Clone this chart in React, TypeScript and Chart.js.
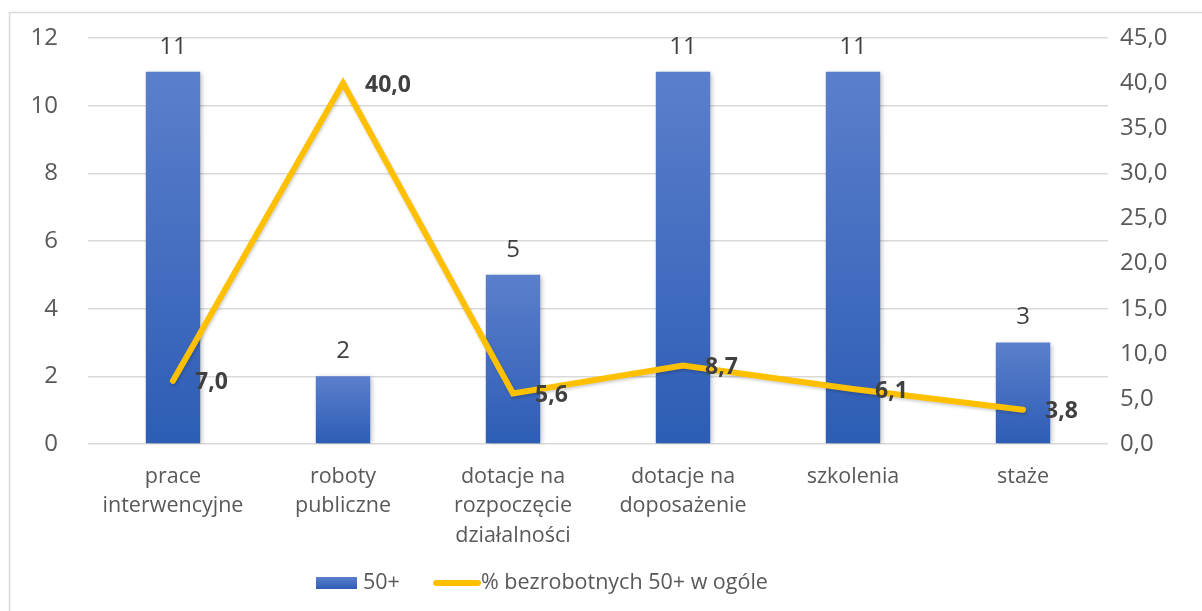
import { useEffect, useRef } from "react";
import { Chart, registerables } from "chart.js";

Chart.register(...registerables);

const categories: string[][] = [
  ["prace", "interwencyjne"],
  ["roboty", "publiczne"],
  ["dotacje na", "rozpoczęcie", "działalności"],
  ["dotacje na", "doposażenie"],
  ["szkolenia"],
  ["staże"],
];
const counts: number[] = [11, 2, 5, 11, 11, 3];
const percents: number[] = [7.0, 40.0, 5.6, 8.7, 6.1, 3.8];
const seriesNames: string[] = ["50+", "% bezrobotnych 50+ w ogóle"];
const leftAxis = { min: 0, max: 12, step: 2 };
const rightAxis = { min: 0, max: 45, step: 5 };

const FONT = "'Open Sans', 'Noto Sans', sans-serif";
const fmt = (v: number) => v.toFixed(1).replace(".", ",");

export default function App() {
  const ref = useRef<HTMLCanvasElement | null>(null);

  useEffect(() => {
    if (!ref.current) return;

    const borderPlugin = {
      id: "frame",
      beforeDraw(chart: any) {
        const c = chart.ctx;
        c.save();
        c.strokeStyle = "#d9d9d9";
        c.lineWidth = 1.5;
        c.beginPath();
        c.moveTo(9.5, chart.height);
        c.lineTo(9.5, 12.5);
        c.lineTo(chart.width, 12.5);
        c.stroke();
        c.restore();
      },
    };

    const shadowPlugin = {
      id: "shadows",
      beforeDatasetDraw(chart: any, args: any) {
        const c = chart.ctx;
        c.save();
        if (args.index === 0) {
          c.shadowColor = "rgba(0,0,0,0.28)";
          c.shadowBlur = 5;
          c.shadowOffsetX = 2;
          c.shadowOffsetY = 1;
        } else {
          c.shadowColor = "rgba(0,0,0,0.18)";
          c.shadowBlur = 3;
          c.shadowOffsetX = 1;
          c.shadowOffsetY = 2;
        }
      },
      afterDatasetDraw(chart: any) {
        chart.ctx.restore();
      },
    };

    const labelsPlugin = {
      id: "valueLabels",
      afterDatasetsDraw(chart: any) {
        const c = chart.ctx;
        c.save();
        c.fillStyle = "#404040";
        const barMeta = chart.getDatasetMeta(0);
        c.font = `24px ${FONT}`;
        c.textAlign = "center";
        c.textBaseline = "middle";
        barMeta.data.forEach((el: any, i: number) => {
          c.fillText(String(counts[i]), el.x, el.y - 25);
        });
        const lineMeta = chart.getDatasetMeta(1);
        c.font = `bold 23px ${FONT}`;
        c.textAlign = "left";
        lineMeta.data.forEach((el: any, i: number) => {
          c.fillText(fmt(percents[i]), el.x + 22, el.y + 2);
        });
        c.restore();
      },
    };

    const legendPlugin = {
      id: "customLegend",
      afterDraw(chart: any) {
        const c = chart.ctx;
        c.save();
        const cy = 583;
        let x = 316;
        const g = c.createLinearGradient(0, cy - 6, 0, cy + 6);
        g.addColorStop(0, "#5b7fcc");
        g.addColorStop(1, "#2d5db5");
        c.fillStyle = g;
        c.fillRect(x, cy - 6, 41, 12);
        x += 47;
        c.font = `21.5px ${FONT}`;
        c.fillStyle = "#595959";
        c.textAlign = "left";
        c.textBaseline = "middle";
        c.fillText(seriesNames[0], x, cy);
        x = 436;
        c.strokeStyle = "#ffc000";
        c.lineWidth = 6;
        c.lineCap = "round";
        c.beginPath();
        c.moveTo(x, cy);
        c.lineTo(x + 42, cy);
        c.stroke();
        c.fillText(seriesNames[1], 481, cy);
        c.restore();
      },
    };

    const chart = new Chart(ref.current, {
      data: {
        labels: categories,
        datasets: [
          {
            type: "bar",
            label: seriesNames[0],
            data: counts,
            yAxisID: "y",
            order: 1,
            barPercentage: 0.32,
            categoryPercentage: 1,
            backgroundColor: (ctx: any) => {
              const chart = ctx.chart;
              const y = chart.scales?.y;
              if (ctx.type !== "data" || !y) return "#4472c4";
              const top = y.getPixelForValue(ctx.raw);
              const base = y.getPixelForValue(0);
              if (!isFinite(top) || !isFinite(base) || top === base) return "#4472c4";
              const g = chart.ctx.createLinearGradient(0, top, 0, base);
              g.addColorStop(0, "#5b7fcc");
              g.addColorStop(1, "#2d5db5");
              return g;
            },
          },
          {
            type: "line",
            label: seriesNames[1],
            data: percents,
            yAxisID: "y1",
            order: 0,
            borderColor: "#ffc000",
            borderWidth: 6,
            borderCapStyle: "round",
            pointRadius: 0,
            tension: 0,
            fill: false,
          },
        ],
      } as any,
      options: {
        animation: false,
        responsive: true,
        maintainAspectRatio: false,
        layout: { padding: { top: 38, left: 0, right: 0, bottom: 0 } },
        plugins: {
          legend: { display: false },
          tooltip: { enabled: false },
        },
        scales: {
          x: {
            grid: { display: false },
            border: { display: false },
            ticks: {
              color: "#595959",
              font: { family: FONT, size: 21.5, lineHeight: 1.37 },
              padding: 10,
              maxRotation: 0,
              autoSkip: false,
            },
            afterFit: (s: any) => {
              s.height = 167;
              s.paddingLeft = 0;
              s.paddingRight = 0;
            },
          },
          y: {
            position: "left",
            min: leftAxis.min,
            max: leftAxis.max,
            ticks: {
              stepSize: leftAxis.step,
              color: "#595959",
              font: { family: FONT, size: 24 },
              padding: 30,
            },
            grid: { color: "#d9d9d9", lineWidth: 1.5, drawTicks: false },
            border: { display: false },
            afterFit: (s: any) => {
              s.width = 88;
              s.paddingTop = 0;
              s.paddingBottom = 0;
            },
          },
          y1: {
            position: "right",
            min: rightAxis.min,
            max: rightAxis.max,
            ticks: {
              stepSize: rightAxis.step,
              color: "#595959",
              font: { family: FONT, size: 24 },
              padding: 12,
              callback: (v: any) => fmt(Number(v)),
            },
            grid: { display: false, drawTicks: false },
            border: { display: false },
            afterFit: (s: any) => {
              s.width = 94;
              s.paddingTop = 0;
              s.paddingBottom = 0;
            },
          },
        },
      } as any,
      plugins: [borderPlugin, shadowPlugin, labelsPlugin, legendPlugin],
    });

    return () => chart.destroy();
  }, []);

  return (
    <div style={{ position: "fixed", left: 0, top: 0, width: 1202, height: 611, background: "#fff" }}>
      <canvas ref={ref} />
    </div>
  );
}
